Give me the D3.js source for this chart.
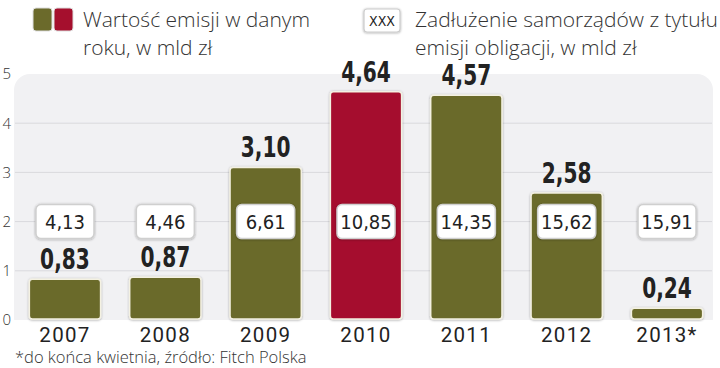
<!DOCTYPE html>
<html><head><meta charset="utf-8">
<script src="https://cdn.jsdelivr.net/npm/d3@7/dist/d3.min.js"></script>
<style>
html,body{margin:0;padding:0;background:#fff;}
svg{display:block;}
</style></head>
<body>
<svg id="chart" width="720" height="368"></svg>
<script>
const years = ["2007","2008","2009","2010","2011","2012","2013*"];
const emission = [0.83, 0.87, 3.10, 4.64, 4.57, 2.58, 0.24];
const debt = [4.13, 4.46, 6.61, 10.85, 14.35, 15.62, 15.91];
const highlight = ["2010"];
const yTicks = [0,1,2,3,4,5];
const legend1 = ["Wartość emisji w danym", "roku, w mld zł"];
const legend2 = ["Zadłużenie samorządów z tytułu", "emisji obligacji, w mld zł"];
const footnote = "*do końca kwietnia, źródło: Fitch Polska";

const fmt = v => v.toFixed(2).replace(".", ",");
const OLIVE = "#6b6a2b", RED = "#a50f2d";

const svg = d3.select("#chart");
const y = d3.scaleLinear().domain([0,5]).range([320,74]);
const x = d3.scaleBand().domain(years).range([14.8,717.2]).paddingInner(0.29).paddingOuter(0.145);

const defs = svg.append("defs");
const f = defs.append("filter").attr("id","sh").attr("x","-20%").attr("y","-20%").attr("width","140%").attr("height","140%");
f.append("feDropShadow").attr("dx",0).attr("dy",0.5).attr("stdDeviation",1.2).attr("flood-color","#000").attr("flood-opacity",0.35);

// panel
svg.append("rect").attr("x",14).attr("y",y(5)).attr("width",699).attr("height",y(0)-y(5)+14)
  .attr("rx",16).attr("fill","#f1f1f3");
svg.append("rect").attr("x",0).attr("y",y(0)).attr("width",720).attr("height",48).attr("fill","#fff");

// gridlines
svg.append("g").selectAll("line").data(yTicks.filter(t=>t>0 && t<5)).join("line")
  .attr("x1",15).attr("x2",712).attr("y1",d=>y(d)).attr("y2",d=>y(d))
  .attr("stroke","#d9d9dd").attr("stroke-width",1);

// y axis labels
const yAxis = d3.axisLeft(y).tickValues(yTicks).tickSize(0).tickPadding(0).tickFormat(d3.format("d"));
const ya = svg.append("g").attr("transform","translate(11,0)").call(yAxis);
ya.select(".domain").remove();
ya.selectAll("text").style("font-family","'Open Sans', sans-serif").style("font-weight",300)
  .style("font-size","15px").attr("fill","#333").attr("text-anchor","end");

// bars
svg.append("g").selectAll("rect").data(years).join("rect")
  .attr("x",d=>x(d)).attr("width",x.bandwidth())
  .attr("y",(d,i)=>y(emission[i])).attr("height",(d,i)=>y(0)-y(emission[i])-1)
  .attr("rx",3).attr("fill",d=>highlight.includes(d)?RED:OLIVE)
  .attr("stroke","#f4f1e2").attr("stroke-width",1.5).attr("filter","url(#sh)");

// value labels
svg.append("g").selectAll("text").data(years).join("text")
  .attr("transform",(d,i)=>`translate(${x(d)+x.bandwidth()/2},${y(emission[i])-10}) scale(0.8,1)`)
  .attr("text-anchor","middle").style("font-family","'DejaVu Sans Condensed', 'DejaVu Sans', sans-serif")
  .style("font-weight","bold").style("font-size","28px").attr("fill","#222")
  .text((d,i)=>fmt(emission[i]));

// debt boxes
const bw = 58, bh = 34;
const bg = svg.append("g").selectAll("g").data(years).join("g")
  .attr("transform",d=>`translate(${x(d)+x.bandwidth()/2},${y(2)})`);
bg.append("rect").attr("x",-bw/2).attr("y",-bh/2).attr("width",bw).attr("height",bh).attr("rx",5)
  .attr("fill","#fff").attr("stroke","#cfcfcf").attr("stroke-width",1.5).attr("filter","url(#sh)");
bg.append("text").attr("text-anchor","middle").attr("dy","0.36em")
  .style("font-family","'DejaVu Sans Condensed', sans-serif").style("font-size","20px").attr("fill","#222")
  .text((d,i)=>fmt(debt[i]));

// x axis labels
const xAxis = d3.axisBottom(x).tickSize(0).tickPadding(0);
const xa = svg.append("g").attr("transform",`translate(0,${y(0)+22})`).call(xAxis);
xa.select(".domain").remove();
xa.selectAll("text").attr("dy",0).style("font-family","Roboto, sans-serif").style("font-weight",400).style("font-size","20.5px")
  .style("letter-spacing","1.3px").attr("fill","#222");

// legend
const lg = svg.append("g");
lg.append("rect").attr("x",33).attr("y",8).attr("width",19).attr("height",23).attr("rx",3).attr("fill",OLIVE).attr("stroke","#ddd").attr("stroke-width",1);
lg.append("rect").attr("x",54).attr("y",8).attr("width",19).attr("height",23).attr("rx",3).attr("fill",RED).attr("stroke","#ddd").attr("stroke-width",1);
lg.append("rect").attr("x",364).attr("y",9).attr("width",36).attr("height",23).attr("rx",3).attr("fill","#fff").attr("stroke","#ccc").attr("stroke-width",1.2).attr("filter","url(#sh)");
lg.append("text").attr("x",382).attr("y",26).attr("text-anchor","middle").style("font-family","'DejaVu Sans Condensed', sans-serif").style("font-size","14px").attr("fill","#222").text("XXX");
const ltxt = (arr, x0) => lg.append("g").selectAll("text").data(arr).join("text")
  .attr("x",x0).attr("y",(d,i)=>27+i*28).style("font-family","'Open Sans', sans-serif").style("font-weight",300)
  .style("font-size","21px").attr("fill","#333").text(d=>d);
ltxt(legend1, 83);
ltxt(legend2, 415);

// footnote
svg.append("text").attr("x",15).attr("y",363).style("font-family","'Open Sans', sans-serif").style("font-weight",300)
  .style("font-size","16.5px").attr("fill","#333").text(footnote);
</script>
</body></html>
